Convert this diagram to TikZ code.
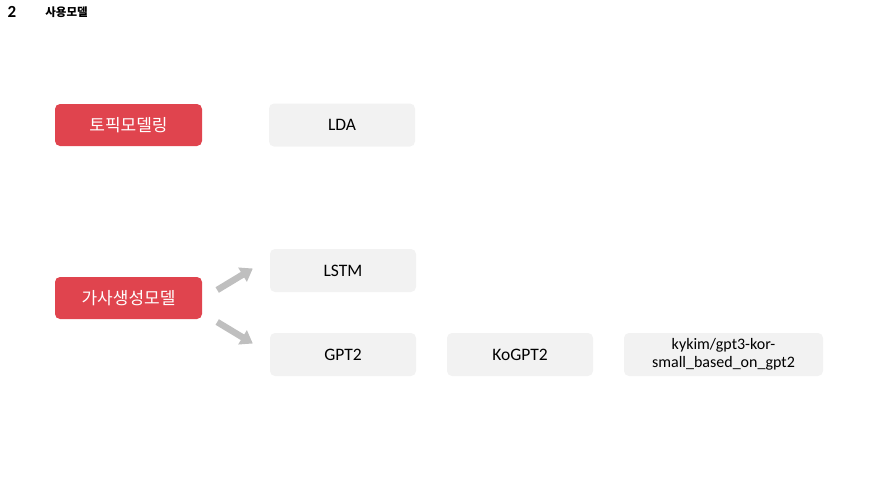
\documentclass[tikz,border=0pt]{standalone}
\usepackage{fontspec}
\setmainfont{Carlito}
\newfontfamily\kor{Noto Sans CJK KR}
\usepackage{tikz}
\usepackage{xcolor}
\usetikzlibrary{arrows.meta}
\definecolor{boxred}{HTML}{E0444E}
\definecolor{boxgrey}{HTML}{F2F2F2}
\definecolor{arrowgrey}{HTML}{BFBFBF}
\tikzset{
    red-box/.style = {fill=boxred, text=white, rectangle, rounded corners=5pt, minimum width=147pt, minimum height=42pt, font=\kor\fontsize{17}{19}\selectfont},
    grey-box/.style = {fill=boxgrey, text=black, rectangle, rounded corners=5pt, minimum width=146pt, minimum height=43pt, font=\fontsize{17.5}{19}\selectfont},
    fat-arrow/.style = {draw=arrowgrey, line width=6.5pt, -{Triangle[length=12pt,width=16pt]}},
}

\begin{document}
\begin{tikzpicture}
\useasboundingbox (0pt,0pt) rectangle (875pt,-482pt);
\node [font=\bfseries\fontsize{17}{19}\selectfont] (num) at (12pt,-12pt) {2};
\node [font=\kor\bfseries\fontsize{11.5}{13}\selectfont] (title) at (66.5pt,-12pt) {사용모델};

\node [red-box] (topic) at (128.5pt,-125pt) {토픽모델링};
\node [grey-box] (lda) at (342pt,-125pt) {LDA};

\node [red-box] (lyric) at (128.5pt,-298pt) {가사생성모델};
\node [grey-box] (lstm) at (343pt,-270.5pt) {LSTM};
\node [grey-box] (gpt2) at (343pt,-354.5pt) {GPT2};
\node [grey-box] (kogpt2) at (520pt,-354.5pt) {KoGPT2};
\node [grey-box, minimum width=199pt, text width=180pt, align=center, font=\fontsize{16}{18}\selectfont] (kykim) at (723.5pt,-354.5pt) {kykim/gpt3-kor-\\small\_based\_on\_gpt2};

\coordinate (up-tail) at ([xshift=15pt,yshift=8pt]lyric.east);
\coordinate (up-head) at ([xshift=-17pt,yshift=2pt]lstm.west);
\coordinate (down-tail) at ([xshift=15pt,yshift=-24pt]lyric.east);
\coordinate (down-head) at ([xshift=-17pt,yshift=11pt]gpt2.west);
\draw [fat-arrow] (up-tail) -- (up-head);
\draw [fat-arrow] (down-tail) -- (down-head);
\end{tikzpicture}
\end{document}
